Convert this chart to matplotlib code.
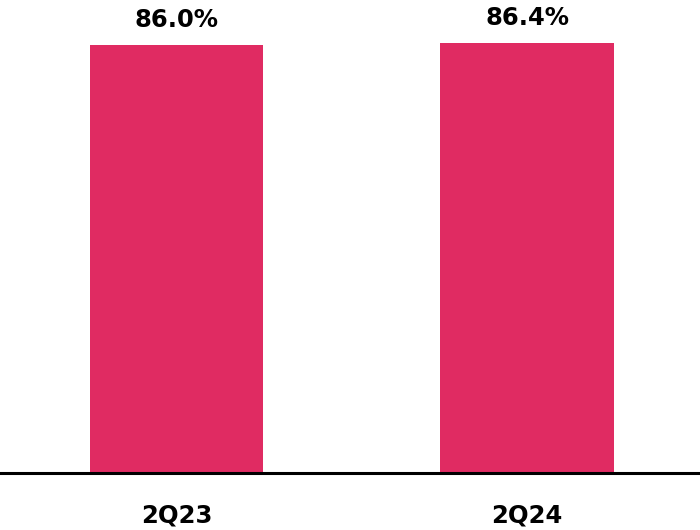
from matplotlib import pyplot as plt

categories = ['2Q23', '2Q24']
values = [86.0, 86.4]
labels = ['86.0%', '86.4%']

plt.rcParams['font.family'] = ['DejaVu Sans']

fig = plt.figure(figsize=(7, 5.3), dpi=100)
ax = fig.add_axes([0, 57 / 530, 1, 473 / 530])

x = range(len(categories))
ax.bar(x, values, width=0.495, color='#E02B62')
ax.set_xlim(-0.504, 1.493)
ax.set_ylim(0, 95)

for i, v in enumerate(values):
    ax.text(i, v + 2.6, labels[i], ha='center', va='bottom',
            fontsize=17.5, fontweight='bold', color='black')

ax.set_xticks(list(x))
ax.set_xticklabels(categories, fontsize=17.5, fontweight='bold')
ax.tick_params(axis='x', length=0, pad=22)
ax.set_yticks([])
for s in ['top', 'right', 'left']:
    ax.spines[s].set_visible(False)
ax.spines['bottom'].set_linewidth(2.2)
ax.spines['bottom'].set_color('black')

fig.savefig('out.png')
